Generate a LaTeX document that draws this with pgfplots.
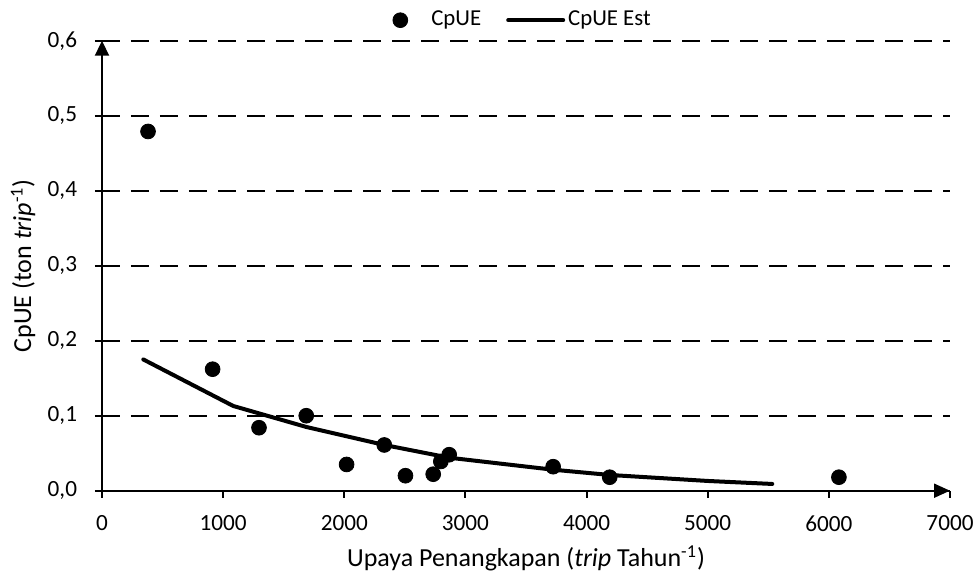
\documentclass[border=0pt]{standalone}
\usepackage{fontspec}
\setmainfont{Carlito}
\usepackage{pgfplots}
\pgfplotsset{compat=1.18}
\usetikzlibrary{arrows.meta}

% Observed catch per unit effort against fishing effort
\pgfplotstableread{
effort cpue
380  0.479
913  0.162
1296 0.084
1686 0.100
2019 0.035
2330 0.061
2505 0.020
2734 0.022
2797 0.039
2866 0.048
3724 0.032
4191 0.018
6083 0.018
}\observed

% Estimated CpUE curve
\pgfplotstableread{
effort cpue
341  0.175
1083 0.113
1686 0.085
2330 0.061
2866 0.044
3724 0.028
4191 0.021
5000 0.013
5533 0.009
}\estimated

\pgfplotsset{
  dotlegend/.style={legend image code/.code={%
    \path[draw=none] (0pt,0pt) -- (28pt,0pt);
    \draw[mark repeat=2,mark phase=2,##1] plot coordinates {(0pt,0pt)(14pt,0pt)(28pt,0pt)};}},
  linelegend/.style={legend image code/.code={\draw[##1] (0pt,0pt) -- (27.5pt,0pt);}},
}

\begin{document}
\fontsize{11.4}{13.5}\selectfont
\begin{tikzpicture}
\begin{axis}[
  at={(0,0)}, anchor=south west,
  scale only axis,
  width=424pt, height=225pt,
  xmin=0, xmax=7000, ymin=0, ymax=0.6,
  xtick={0,1000,...,7000},
  ytick={0,0.1,...,0.6},
  axis x line=bottom, axis y line=left,
  axis line style={line width=1pt},
  x axis line style={-{Triangle[length=8pt,width=7pt]}},
  y axis line style={-{Triangle[length=7.5pt,width=7pt]}},
  tick align=outside,
  major tick length=3.5pt,
  tick style={black, line width=1pt},
  ymajorgrids,
  grid style={black, line width=1.2pt, dash pattern=on 9pt off 5.5pt},
  /pgf/number format/assume math mode=true,
  scaled x ticks=false,
  tick label style={font=\fontsize{11.6}{13.5}\selectfont},
  xticklabel style={yshift=-5pt, /pgf/number format/.cd, 1000 sep={}},
  yticklabel style={xshift=-5pt, /pgf/number format/.cd, use comma, fixed, fixed zerofill, precision=1},
  xlabel={Upaya Penangkapan (\textit{trip} Tahun\textsuperscript{-1})},
  ylabel={CpUE (ton \textit{trip}\textsuperscript{-1})},
  label style={font=\fontsize{13}{15}\selectfont},
  xlabel style={at={(axis description cs:0.5,-0.150)}, anchor=center},
  ylabel style={at={(axis description cs:-0.093,0.5)}, anchor=center},
  legend columns=2,
  legend style={at={(0.5,1)}, anchor=south, xshift=-6.5pt, yshift=2pt, draw=none, fill=none,
    font=\fontsize{11.4}{13.5}\selectfont,
    /tikz/every even column/.append style={column sep=11pt},
    nodes={inner sep=1.5pt}},
  clip=false,
]
\addplot[only marks, mark=*, mark size=3.7pt, black, dotlegend]
  table[x=effort, y=cpue] {\observed};
\addlegendentry{CpUE}
\addplot[black, line width=2pt, line cap=round, line join=round, linelegend]
  table[x=effort, y=cpue] {\estimated};
\addlegendentry{CpUE Est}
\end{axis}
\pgfresetboundingbox
\path (-51pt,-42.15pt) rectangle (439pt,245.35pt);
\end{tikzpicture}
\end{document}
